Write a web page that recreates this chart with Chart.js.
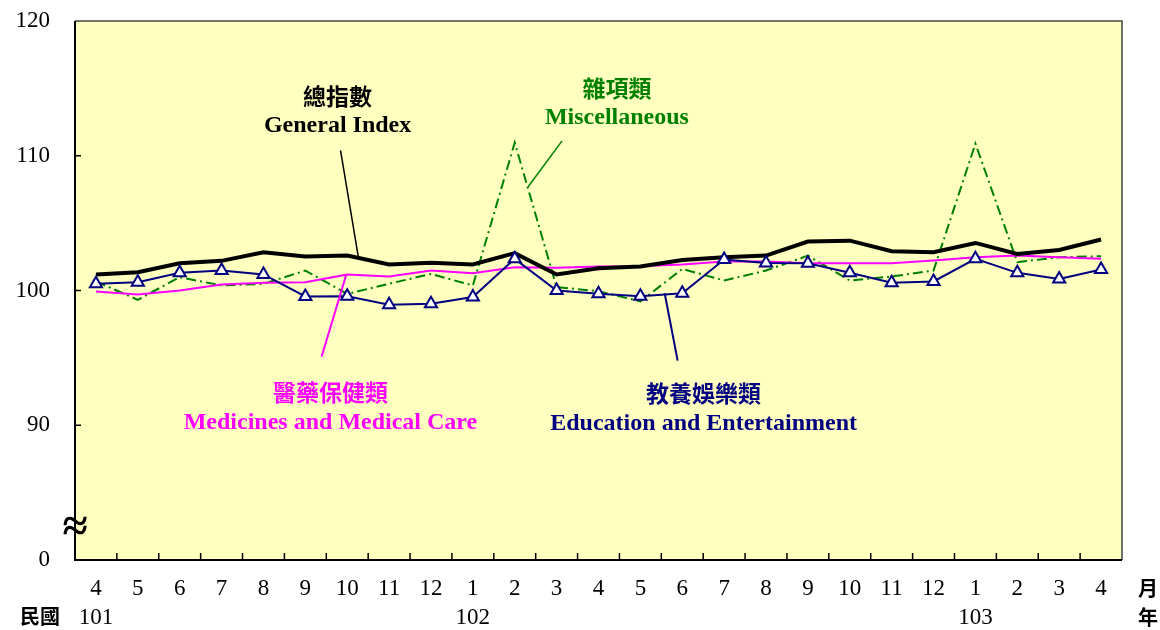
<!DOCTYPE html>
<html>
<head>
<meta charset="utf-8">
<script src="https://cdn.jsdelivr.net/npm/chart.js@4"></script>
<style>
  html, body { margin: 0; padding: 0; background: #fff; }
  #wrap { width: 1160px; height: 630px; }
</style>
</head>
<body>
<div id="wrap"><canvas id="cpiChart" width="1160" height="630"></canvas></div>
<script>
// months 101/4 .. 103/4
const months = ['4','5','6','7','8','9','10','11','12','1','2','3','4','5','6','7','8','9','10','11','12','1','2','3','4'];
const years = ['101','','','','','','','','','102','','','','','','','','','','','','103','','',''];

const generalIndex = [101.19, 101.36, 102.02, 102.2, 102.84, 102.52, 102.59, 101.93, 102.05, 101.93, 102.77, 101.19, 101.65,
  101.78, 102.27, 102.47, 102.59, 103.63, 103.7, 102.91, 102.84, 103.53, 102.71, 103.01, 103.78];
const education = [100.5, 100.62, 101.31, 101.48, 101.19, 99.56, 99.58, 98.94, 99.01, 99.51, 102.35, 100.0, 99.75,
  99.58, 99.8, 102.3, 102.05, 102.02, 101.31, 100.57, 100.67, 102.35, 101.31, 100.86, 101.56];
const medicines = [99.93, 99.7, 100.0, 100.44, 100.57, 100.62, 101.19, 101.04, 101.48, 101.28, 101.73, 101.68, 101.78,
  101.8, 101.93, 102.15, 102.15, 102.02, 102.02, 102.02, 102.22, 102.47, 102.59, 102.47, 102.35];
const miscellaneous = [100.67, 99.31, 100.99, 100.37, 100.49, 101.48, 99.75, 100.5, 101.23, 100.37, 110.97, 100.25, 99.95,
  99.19, 101.6, 100.74, 101.48, 102.59, 100.74, 101.04, 101.48, 110.9, 102.1, 102.47, 102.54];

const yTicks = [80, 90, 100, 110, 120];

// series labels with leader lines, in data units (category index, value)
const notes = [
  { zh: '總指數', en: 'General Index', color: '#000000', x: 5.77, y: 114.44, from: [5.84, 110.4], to: [6.27, 102.4], lw: 1.5 },
  { zh: '雜項類', en: 'Miscellaneous', color: '#008000', x: 12.44, y: 115.04, from: [11.13, 111.1], to: [10.32, 107.7], lw: 1.5 },
  { zh: '醫藥保健類', en: 'Medicines and Medical Care', color: '#FF00FF', x: 5.6, y: 92.44, from: [5.39, 95.1], to: [5.98, 101.2], lw: 2 },
  { zh: '教養娛樂類', en: 'Education and Entertainment', color: '#000080', x: 14.51, y: 92.37, from: [13.89, 94.8], to: [13.58, 99.8], lw: 2 }
];

const serif = '"Liberation Serif", "Times New Roman", serif';
const cjk = '"Noto Sans CJK TC", "Noto Sans CJK SC", sans-serif';

const decorPlugin = {
  id: 'decor',
  beforeDraw(chart) {
    const { ctx, chartArea: a } = chart;
    ctx.save();
    ctx.fillStyle = '#FFFFC0';
    ctx.fillRect(a.left, a.top, a.right - a.left, a.bottom - a.top);
    ctx.restore();
  },
  afterDatasetsDraw(chart) {
    const { ctx, chartArea: a, scales } = chart;
    const xs = scales.x, ys = scales.y;
    ctx.save();
    // frame
    ctx.strokeStyle = '#444';
    ctx.lineWidth = 1.5;
    ctx.beginPath();
    ctx.moveTo(a.left, a.top); ctx.lineTo(a.right, a.top); ctx.lineTo(a.right, a.bottom);
    ctx.stroke();
    ctx.strokeStyle = '#000';
    ctx.lineWidth = 2;
    ctx.beginPath();
    ctx.moveTo(a.left, a.top); ctx.lineTo(a.left, a.bottom); ctx.lineTo(a.right, a.bottom);
    ctx.stroke();
    // inward tick marks
    ctx.lineWidth = 1.5;
    ctx.beginPath();
    for (let i = 1; i < months.length; i++) {
      const px = (xs.getPixelForValue(i - 1) + xs.getPixelForValue(i)) / 2;
      ctx.moveTo(px, a.bottom); ctx.lineTo(px, a.bottom - 7);
    }
    [90, 100, 110].forEach(v => {
      const py = ys.getPixelForValue(v);
      ctx.moveTo(a.left, py); ctx.lineTo(a.left + 6, py);
    });
    ctx.stroke();
    // axis break
    ctx.fillStyle = '#000';
    ctx.font = 'bold 46px ' + serif;
    ctx.textAlign = 'center';
    ctx.textBaseline = 'middle';
    ctx.fillText('≈', a.left, ys.getPixelForValue(82.3));

    // series notes
    const step = xs.getPixelForValue(1) - xs.getPixelForValue(0);
    const x0 = xs.getPixelForValue(0);
    notes.forEach(n => {
      const cx = x0 + step * n.x;
      const cy = ys.getPixelForValue(n.y);
      ctx.fillStyle = n.color;
      ctx.textAlign = 'center';
      ctx.textBaseline = 'middle';
      ctx.font = 'bold 23px ' + cjk;
      ctx.fillText(n.zh, cx, cy);
      ctx.font = 'bold 24px ' + serif;
      ctx.fillText(n.en, cx, cy + 30);
      ctx.strokeStyle = n.color;
      ctx.lineWidth = n.lw;
      ctx.beginPath();
      ctx.moveTo(x0 + step * n.from[0], ys.getPixelForValue(n.from[1]));
      ctx.lineTo(x0 + step * n.to[0], ys.getPixelForValue(n.to[1]));
      ctx.stroke();
    });

    // axis captions
    ctx.fillStyle = '#000';
    ctx.font = 'bold 20px ' + cjk;
    ctx.textAlign = 'center';
    ctx.fillText('民國', 40, 616);
    ctx.fillText('月', 1148, 588);
    ctx.fillText('年', 1148, 617);
    ctx.restore();
  }
};

const ctx = document.getElementById('cpiChart').getContext('2d');
new Chart(ctx, {
  type: 'line',
  data: {
    labels: months.map((m, i) => [m, years[i]]),
    datasets: [
      {
        label: '教養娛樂類',
        data: education,
        borderColor: '#000080',
        borderWidth: 2,
        pointStyle: 'triangle',
        pointRadius: 7,
        pointBackgroundColor: '#FFFFFF',
        pointBorderColor: '#000080',
        pointBorderWidth: 2,
        order: 1
      },
      {
        label: '總指數',
        data: generalIndex,
        borderColor: '#000000',
        borderWidth: 4,
        pointRadius: 0,
        order: 2
      },
      {
        label: '醫藥保健類',
        data: medicines,
        borderColor: '#FF00FF',
        borderWidth: 2,
        pointRadius: 0,
        order: 3
      },
      {
        label: '雜項類',
        data: miscellaneous,
        borderColor: '#008000',
        borderWidth: 2,
        borderDash: [10, 4, 2, 4],
        pointRadius: 0,
        order: 4
      }
    ]
  },
  options: {
    responsive: false,
    animation: false,
    layout: { padding: { top: 21, right: 38, left: 0, bottom: 0 } },
    plugins: {
      legend: { display: false },
      tooltip: { enabled: false }
    },
    scales: {
      x: {
        offset: true,
        grid: { display: false, drawTicks: false },
        border: { display: false },
        ticks: {
          color: '#000',
          font: { family: serif, size: 23, lineHeight: 1.26 },
          padding: 14,
          maxRotation: 0,
          autoSkip: false
        },
        afterFit(scale) { scale.height = 70; }
      },
      y: {
        min: 80,
        max: 120,
        afterBuildTicks(scale) { scale.ticks = yTicks.map(v => ({ value: v })); },
        grid: { display: false, drawTicks: false },
        border: { display: false },
        ticks: {
          color: '#000',
          font: { family: serif, size: 23 },
          padding: 25,
          callback: v => (v === 80 ? '0' : String(v))
        },
        afterFit(scale) {
          scale.width = 75;
          scale.paddingTop = 0;
          scale.paddingBottom = 0;
        }
      }
    }
  },
  plugins: [decorPlugin]
});
</script>
</body>
</html>
